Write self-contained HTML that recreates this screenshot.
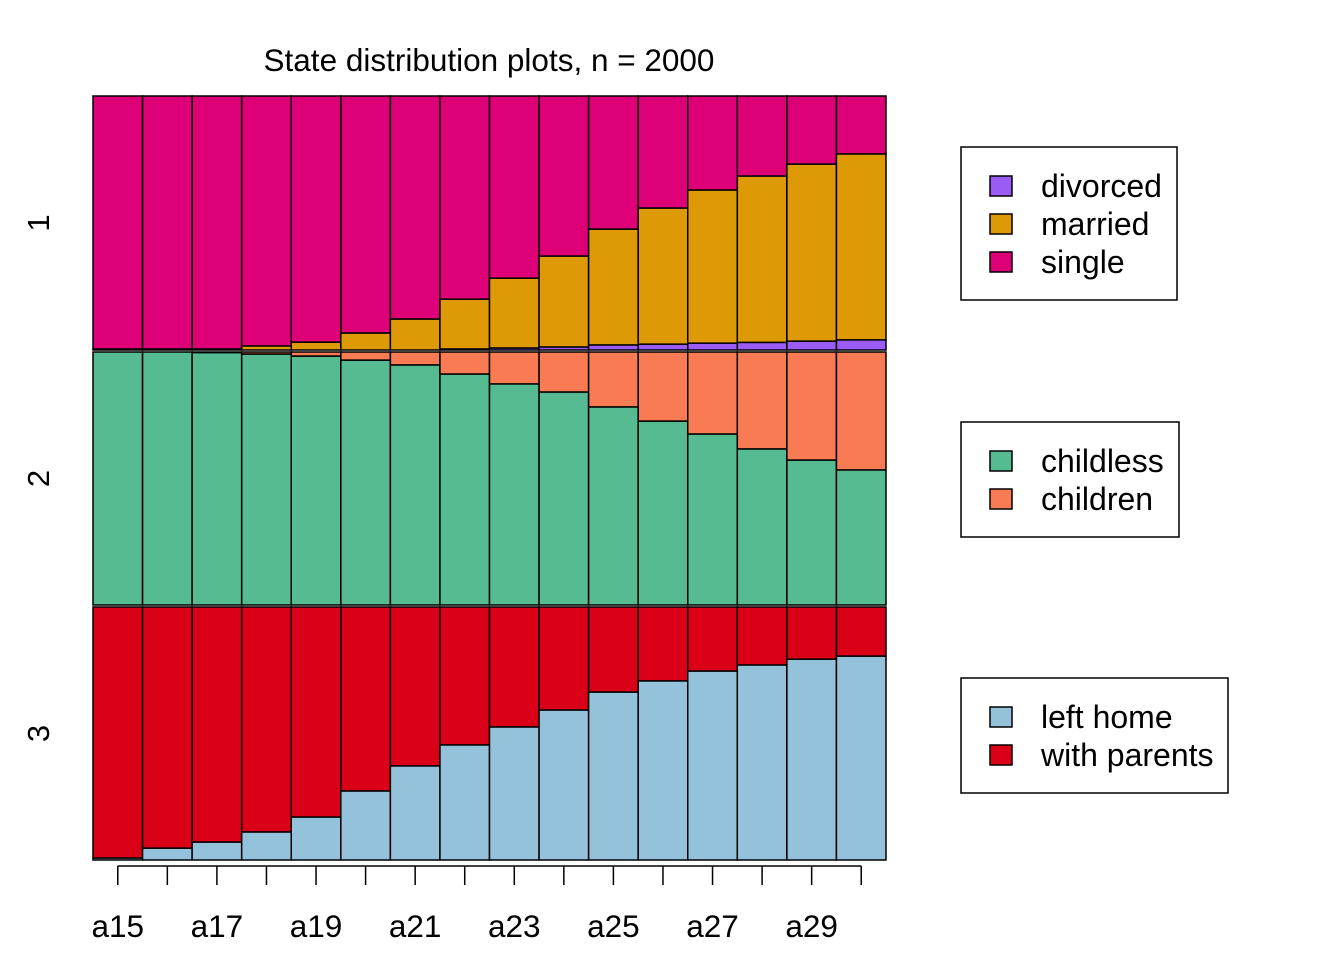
<!DOCTYPE html>
<html><head><meta charset="utf-8"><style>
html,body{margin:0;padding:0;background:#fff}
svg{display:block;font-family:"Liberation Sans",Arial,sans-serif}
</style></head><body>
<svg id="c" width="1344" height="960">
<text x="489" y="71" font-size="31.5" text-anchor="middle">State distribution plots, n = 2000</text>
</svg>
<script>
const categories = ["a15","a16","a17","a18","a19","a20","a21","a22","a23","a24","a25","a26","a27","a28","a29","a30"];
const tickLabels = ["a15","","a17","","a19","","a21","","a23","","a25","","a27","","a29",""];
// panel 1: divorced, married, single (fractions)
const divorced = [0,0,0,0,0,0,0,0.004,0.008,0.012,0.02,0.023,0.027,0.03,0.035,0.04];
const married  = [0.004,0.004,0.004,0.016,0.031,0.067,0.122,0.196,0.275,0.358,0.456,0.536,0.603,0.655,0.697,0.732];
// panel 2: childless, children
const children = [0,0,0.002,0.008,0.016,0.032,0.051,0.087,0.126,0.158,0.217,0.273,0.324,0.383,0.427,0.466];
// panel 3: left home, with parents
const leftHome = [0.008,0.047,0.071,0.111,0.17,0.273,0.372,0.455,0.526,0.593,0.664,0.708,0.747,0.771,0.794,0.806];

const svg = document.getElementById('c');
const NS = "http://www.w3.org/2000/svg";
const X0 = 93, X1 = 886, n = categories.length, bw = (X1 - X0) / n;
const xPos = i => X0 + i * bw;
function mk(tag, attrs){const e=document.createElementNS(NS,tag);for(const k in attrs)e.setAttribute(k,attrs[k]);svg.appendChild(e);return e;}

const panels = [
  {top:96, bot:350, label:"1", series:[
    {name:"divorced", color:"#9A5CF5", vals:divorced},
    {name:"married", color:"#DE9A06", vals:married},
    {name:"single", color:"#DE0077", vals:categories.map((_, i)=>Math.max(0,1-divorced[i]-married[i]))}]},
  {top:352, bot:605, label:"2", series:[
    {name:"childless", color:"#57BB92", vals:children.map(v=>1-v)},
    {name:"children", color:"#F97B53", vals:children}]},
  {top:607, bot:860, label:"3", series:[
    {name:"left-home", color:"#95C2DB", vals:leftHome},
    {name:"with-parents", color:"#D90017", vals:leftHome.map(v=>1-v)}]}
];

panels.forEach((p, pi) => {
  const h = p.bot - p.top;
  const yPos = f => p.bot - f * h;
  for (let i = 0; i < n; i++) {
    let cum = 0;
    p.series.forEach(s => {
      const v = s.vals[i];
      const r = mk('rect', {x:xPos(i), y:yPos(cum+v), width:bw, height:v*h, fill:s.color, stroke:"#000", "stroke-width":1.5});
      
      
      cum += v;
    });
  }
  const cy = (p.top+p.bot)/2;
  const t = mk('text', {x:49, y:cy, "font-size":31, "text-anchor":"middle", transform:`rotate(-90 49 ${cy})`});
  t.textContent = p.label;
  
  
});

// x axis
const ax = mk('line', {x1:xPos(0)+bw/2, x2:xPos(n-1)+bw/2, y1:866, y2:866, stroke:"#000", "stroke-width":1.5});


for (let i = 0; i < n; i++) {
  const cx = xPos(i) + bw/2;
  const tk = mk('line', {x1:cx, x2:cx, y1:866, y2:885, stroke:"#000", "stroke-width":1.5});
  
  
  if (tickLabels[i]) {
    const tl = mk('text', {x:cx, y:937, "font-size":31.5, "text-anchor":"middle"});
    tl.textContent = tickLabels[i];
    
    
  }
}

// legends
const legends = [
  {x:961, y:147, w:216, h:153, items:[["divorced","#9A5CF5"],["married","#DE9A06"],["single","#DE0077"]]},
  {x:961, y:422, w:218, h:115, items:[["childless","#57BB92"],["children","#F97B53"]]},
  {x:961, y:678, w:267, h:115, items:[["left home","#95C2DB"],["with parents","#D90017"]]}
];
legends.forEach((L, li) => {
  const b = mk('rect', {x:L.x, y:L.y, width:L.w, height:L.h, fill:"#fff", stroke:"#000", "stroke-width":1.5});
  
  
  L.items.forEach((it, k) => {
    const cy = L.y + 39 + k * 38;
    const sw = mk('rect', {x:990, y:cy-10, width:22, height:20, fill:it[1], stroke:"#000", "stroke-width":1.5});
    
    
    const tx = mk('text', {x:1041, y:cy+11, "font-size":32});
    tx.textContent = it[0];
    
    
  });
});
</script>
</body></html>
